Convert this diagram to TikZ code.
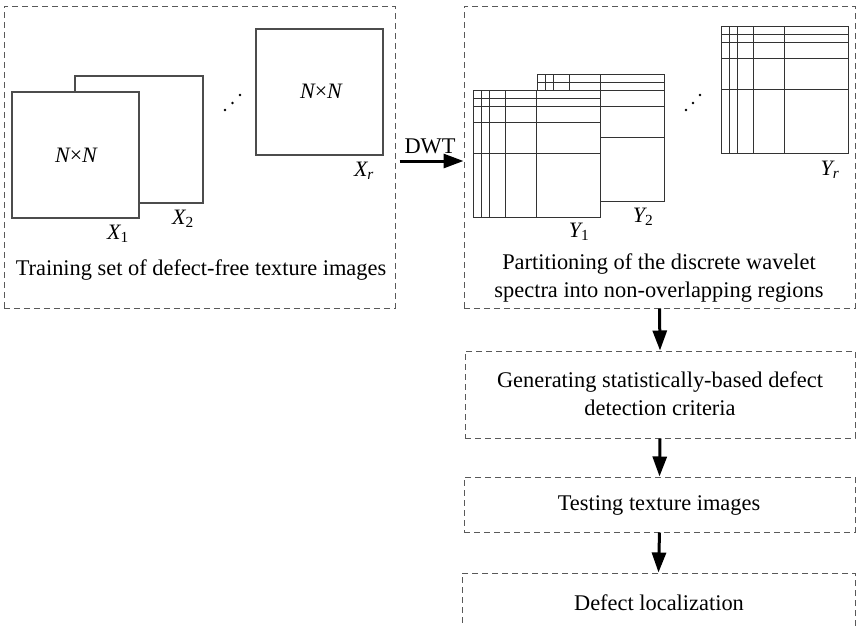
\documentclass[tikz,border=0pt]{standalone}
\usepackage{fontspec}
\setmainfont{Liberation Serif}
\usetikzlibrary{arrows.meta}
\begin{document}
\begin{tikzpicture}[x=1pt,y=-1pt,
  dbox/.style={draw=black!65,dash pattern=on 6pt off 4pt,line width=1pt,inner sep=0pt,rectangle},
  sq/.style={draw=black!70,line width=1.1pt,fill=white},
  wline/.style={draw=black!80,line width=1pt},
  arr/.style={line width=3pt,-{Triangle[length=20pt,width=14pt]}},
  txt/.style={font=\fontsize{22.4}{28}\selectfont,anchor=base,inner sep=0pt},
  lab/.style={font=\fontsize{22}{26}\selectfont\itshape,anchor=base,inner sep=0pt},
  dot/.style={fill=black}]
\useasboundingbox (0,0) rectangle (857,625);
\clip (0,0) rectangle (857,625);
% dashed boxes
\node[dbox,minimum width=391pt,minimum height=302pt] (b1) at (199.5,157) {};
\node[dbox,minimum width=391pt,minimum height=302pt] (b2) at (659.5,157) {};
\node[dbox,minimum width=390pt,minimum height=87pt] (b3) at (660,394.5) {};
\node[dbox,minimum width=391pt,minimum height=55pt] (b4) at (659.5,504.5) {};
\node[dbox,minimum width=393pt,minimum height=70pt] (b5) at (658.5,608) {};
% left images
\draw[sq] (75,76) rectangle (203,203);
\draw[sq] (12,92) rectangle (139,218);
\draw[sq] (256,29) rectangle (383,155);
\node[lab] (n1) at (76,162) {N\upshape×\itshape N};
\node[lab] (n2) at (321,98) {N\upshape×\itshape N};
\node[lab] (x1) at (118,239) {X\textsubscript{\upshape 1}};
\node[lab] (x2) at (183,224) {X\textsubscript{\upshape 2}};
\node[lab] (xr) at (364,176) {X\textsubscript{r}};
\foreach \p in {(225,110),(232.5,103),(240,95)} \fill[dot] \p circle (1.4pt);
\node[txt] (t1) at (201,275) {Training set of defect-free texture images};
% wavelet grids
\newcommand\wgrid[2]{%
  \begin{scope}[shift={(#1,#2)}]
    \filldraw[wline,fill=white] (0,0) rectangle (127,127);
    \foreach \f in {8,16,32,63.5} {\draw[wline] (\f,0)--(\f,127); \draw[wline] (0,\f)--(127,\f);}
  \end{scope}}
\wgrid{537}{74}
\wgrid{473}{90}
\wgrid{721}{26}
\node[lab] (y1) at (579,237) {Y\textsubscript{\upshape 1}};
\node[lab] (y2) at (643,222) {Y\textsubscript{\upshape 2}};
\node[lab] (yr) at (830,175) {Y\textsubscript{r}};
\foreach \p in {(686,110),(693,103),(700,95)} \fill[dot] \p circle (1.4pt);
\node[txt,align=center] (t2) at (659,297) {Partitioning of the discrete wavelet\\spectra into non-overlapping regions};
% other texts
\node[txt,align=center] (t3) at (660,415) {Generating statistically-based defect\\detection criteria};
\node[txt] (t4) at (659,510) {Testing texture images};
\node[txt] (t5) at (659,610) {Defect localization};
\node[txt] (dwt) at (430,153) {DWT};
% arrows
\draw[arr,shorten <=4pt] ([yshift=-4pt]b1.east) -- ([yshift=-4pt]b2.west);
\draw[arr] (b2.south) -- (b3.north);
\draw[arr] (b3.south) -- (b4.north);
\draw[arr] (b4.south) -- (b5.north);
\end{tikzpicture}
\end{document}
